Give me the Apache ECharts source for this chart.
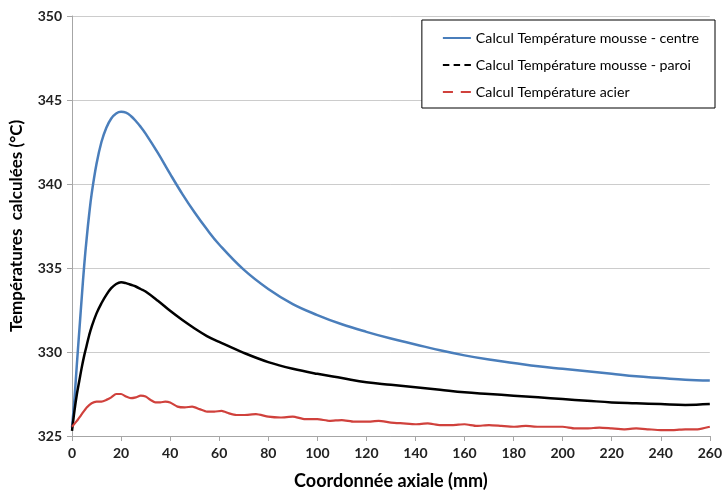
<!DOCTYPE html>
<html><head><meta charset="utf-8">
<script src="https://cdn.jsdelivr.net/npm/echarts@6/dist/echarts.min.js"></script>
<style>html,body{margin:0;padding:0;background:#fff}#c{width:725px;height:495px}</style>
</head><body><div id="c"></div>
<script>
const seriesNames = ['Calcul Température mousse - centre','Calcul Température mousse - paroi','Calcul Température acier'];
const xCurve = [0,1,2,3,4,5,6,7,8,10,12,14,16,18,20,22,24,26,28,30,35,40,45,50,55,60,70,80,90,100,110,120,130,140,150,160,170,180,190,200,210,220,230,240,250,260];
const centreVals = [325.5,327.2,329.3,331.3,333.3,335.2,336.8,338.2,339.4,341.2,342.5,343.35,343.9,344.2,344.3,344.25,344.05,343.75,343.4,343.0,341.85,340.6,339.4,338.3,337.3,336.4,334.9,333.75,332.85,332.2,331.65,331.2,330.8,330.45,330.1,329.8,329.55,329.35,329.15,329.0,328.85,328.7,328.55,328.45,328.35,328.3];
const paroiVals = [325.3,326.5,327.5,328.3,329.1,329.8,330.4,331.0,331.5,332.3,332.9,333.4,333.8,334.05,334.15,334.1,334.0,333.9,333.75,333.6,333.05,332.45,331.9,331.4,330.95,330.6,329.95,329.4,329.0,328.7,328.45,328.2,328.05,327.9,327.75,327.6,327.5,327.4,327.3,327.2,327.1,327.0,326.95,326.9,326.85,326.9];
const xSteel = [0,2,4,6,8,10,12,14,16,18,20,22,24,26,28,30,32,34,36,38,40,43,46,49,52,55,58,61,64,67,70,75,80,85,90,95,100,105,110,115,120,125,130,135,140,145,150,155,160,165,170,175,180,185,190,195,200,205,210,215,220,225,230,235,240,245,250,255,260];
const acierVals = [325.55,325.9,326.3,326.7,326.95,327.05,327.05,327.15,327.3,327.5,327.5,327.35,327.25,327.3,327.4,327.35,327.15,327.0,327.0,327.05,327.0,326.75,326.7,326.75,326.6,326.45,326.45,326.5,326.35,326.25,326.25,326.3,326.15,326.1,326.15,326.0,326.0,325.9,325.95,325.85,325.85,325.9,325.8,325.75,325.7,325.75,325.65,325.65,325.7,325.6,325.65,325.6,325.55,325.6,325.55,325.55,325.55,325.45,325.45,325.5,325.45,325.4,325.45,325.4,325.35,325.35,325.4,325.4,325.55];
const xTicks = [0,20,40,60,80,100,120,140,160,180,200,220,240,260];
const yTicks = [325,330,335,340,345,350];

const pair = (xs, ys) => xs.map((x, i) => [x, ys[i]]);
const FONT = 'Lato';
const chart = echarts.init(document.getElementById('c'));
chart.setOption({
  animation: false,
  backgroundColor: '#ffffff',
  grid: { left: 70, right: 13, top: 16, bottom: 59, containLabel: false },
  xAxis: {
    type: 'value', min: 0, max: 260, interval: 20,
    name: 'Coordonnée axiale (mm)', nameLocation: 'middle', nameGap: 36,
    nameTextStyle: { fontFamily: FONT, fontWeight: 'bold', fontSize: 18, color: '#000' },
    axisLine: { show: true, lineStyle: { color: '#a6a6a6', width: 1 } },
    axisTick: { show: true, length: 5, lineStyle: { color: '#a6a6a6' } },
    axisLabel: { fontFamily: FONT, fontWeight: 'bold', fontSize: 14, color: '#222', margin: 10 },
    splitLine: { show: false }
  },
  yAxis: {
    type: 'value', min: 325, max: 350, interval: 5,
    name: 'Températures  calculées (°C)', nameLocation: 'middle', nameGap: 47, nameRotate: 90,
    nameTextStyle: { fontFamily: FONT, fontWeight: 'bold', fontSize: 17, color: '#000' },
    axisLine: { show: true, lineStyle: { color: '#a6a6a6', width: 1 } },
    axisTick: { show: true, length: 5, lineStyle: { color: '#a6a6a6' } },
    axisLabel: { fontFamily: FONT, fontWeight: 'bold', fontSize: 14, color: '#222', margin: 10 },
    splitLine: { show: true, lineStyle: { color: '#cccccc', width: 1 } }
  },
  legend: {
    orient: 'vertical', right: 10, top: 20,
    backgroundColor: '#fff', borderColor: '#000', borderWidth: 1,
    padding: [11, 16, 9, 21], itemGap: 13, itemWidth: 28, itemHeight: 14,
    textStyle: { fontFamily: FONT, fontSize: 14.2, color: '#000' },
    data: [
      { name: seriesNames[0], icon: 'path://M0,0 L28,0 L28,2 L0,2 Z', itemStyle: { color: '#4a7ebb' } },
      { name: seriesNames[1], icon: 'path://M0,0 L6,0 L6,2 L0,2 Z M10,0 L16,0 L16,2 L10,2 Z M20,0 L26,0 L26,2 L20,2 Z', itemStyle: { color: '#000' } },
      { name: seriesNames[2], icon: 'path://M0,0 L9,0 L9,2 L0,2 Z M16,0 L25,0 L25,2 L16,2 Z', itemStyle: { color: '#d0413c' } }
    ]
  },
  series: [
    { name: seriesNames[0], type: 'line', data: pair(xCurve, centreVals), smooth: 0.4, showSymbol: false, symbol: 'none',
      lineStyle: { color: '#4a7ebb', width: 2.5 }, itemStyle: { color: '#4a7ebb' } },
    { name: seriesNames[1], type: 'line', data: pair(xCurve, paroiVals), smooth: 0.4, showSymbol: false, symbol: 'none',
      lineStyle: { color: '#000', width: 2.5 }, itemStyle: { color: '#000' } },
    { name: seriesNames[2], type: 'line', data: pair(xSteel, acierVals), smooth: 0.2, showSymbol: false, symbol: 'none',
      lineStyle: { color: '#d0413c', width: 2.2 }, itemStyle: { color: '#d0413c' } }
  ]
});
</script></body></html>
